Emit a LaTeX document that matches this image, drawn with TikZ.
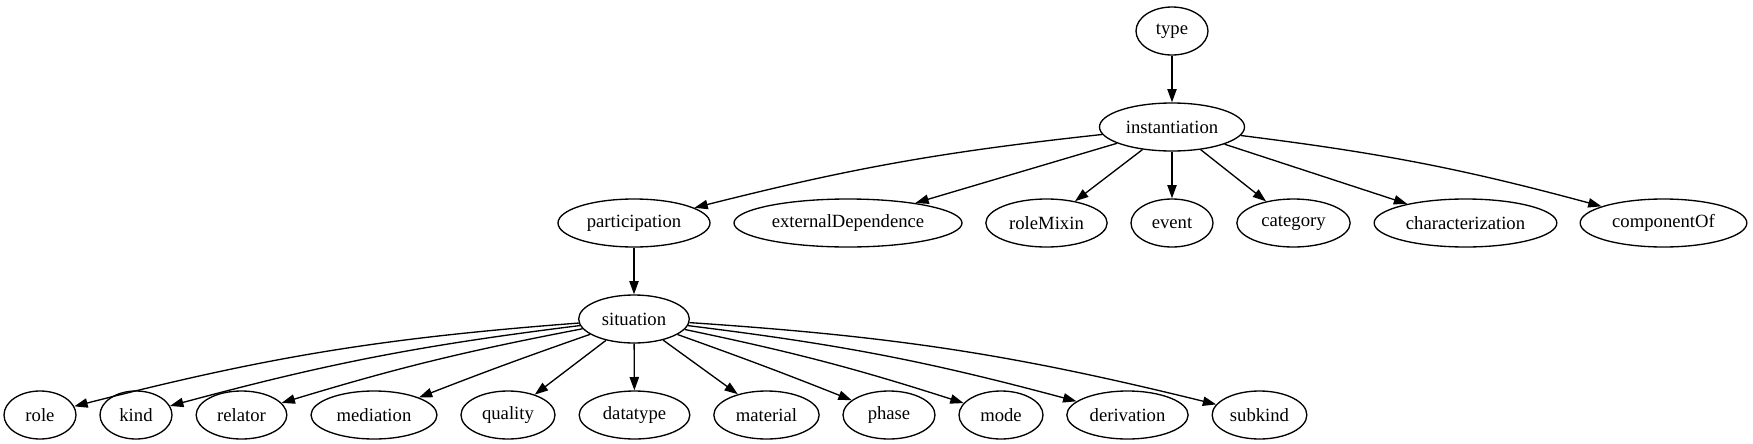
\documentclass[tikz,border=0pt]{standalone}
\usepackage{fontspec}
\setmainfont{Liberation Serif}
\usetikzlibrary{shapes.geometric,arrows.meta}

\begin{document}
\begin{tikzpicture}[
    x=0.75pt, y=-0.75pt,
    % Estilo para los nodos
    nodo/.style={
        ellipse,
        draw=black,
        line width=1pt,
        fill=white,
        inner sep=0pt,
        minimum height=36pt,
        font=\fontsize{14}{16}\selectfont
    },
    % Estilo para las aristas
    arista/.style={
        ->,
        >={Triangle[length=10pt,width=7pt]},
        line width=1pt,
        color=black
    }
]
    \useasboundingbox (0,0) rectangle (1753,443);

    % --- RAIZ ---
    \node[nodo, minimum width=54pt]    (type) at (1172,31)  {type};
    \node[nodo, minimum width=108.75pt] (inst) at (1172,127) {instantiation};

    % --- SEGUNDO NIVEL ---
    \node[nodo, minimum width=114pt] (part)      at (634,223)    {participation};
    \node[nodo, minimum width=171pt] (extDep)    at (848,223)    {externalDependence};
    \node[nodo, minimum width=91pt]  (roleMixin) at (1046.5,223) {roleMixin};
    \node[nodo, minimum width=61.5pt] (event)    at (1172,223)   {event};
    \node[nodo, minimum width=85pt]  (category)  at (1293.5,223) {category};
    \node[nodo, minimum width=137pt] (charact)   at (1465.5,223) {characterization};
    \node[nodo, minimum width=125pt] (compOf)    at (1663.5,223) {componentOf};

    % --- TERCER NIVEL ---
    \node[nodo, minimum width=83pt] (situation) at (634,319) {situation};

    % --- HOJAS ---
    \node[nodo, minimum width=54pt]   (role)       at (40,415)     {role};
    \node[nodo, minimum width=54pt]   (kind)       at (136,415)    {kind};
    \node[nodo, minimum width=68pt]   (relator)    at (241.5,415)  {relator};
    \node[nodo, minimum width=94.5pt] (mediation)  at (374,415)    {mediation};
    \node[nodo, minimum width=70.5pt] (quality)    at (508,415)    {quality};
    \node[nodo, minimum width=83pt]   (datatype)   at (634.5,415)  {datatype};
    \node[nodo, minimum width=79pt]   (material)   at (766.5,415)  {material};
    \node[nodo, minimum width=69pt]   (phase)      at (889,415)    {phase};
    \node[nodo, minimum width=63pt]   (mode)       at (1001,415)   {mode};
    \node[nodo, minimum width=91pt]   (derivation) at (1127.5,415) {derivation};
    \node[nodo, minimum width=71pt]   (subkind)    at (1259.5,415) {subkind};

    % --- ARISTAS ---
    \draw[arista] (type) -- (inst);

    \draw[arista] (inst) to[bend right=4] (part);
    \draw[arista] (inst) -- (extDep);
    \draw[arista] (inst) -- (roleMixin);
    \draw[arista] (inst) -- (event);
    \draw[arista] (inst) -- (category);
    \draw[arista] (inst) -- (charact);
    \draw[arista] (inst) to[bend left=4] (compOf);

    \draw[arista] (part) -- (situation);

    \draw[arista] (situation) to[bend right=5] (role);
    \draw[arista] (situation) to[bend right=4] (kind);
    \draw[arista] (situation) to[bend right=3] (relator);
    \draw[arista] (situation) to[bend right=1] (mediation);
    \draw[arista] (situation) -- (quality);
    \draw[arista] (situation) -- (datatype);
    \draw[arista] (situation) -- (material);
    \draw[arista] (situation) to[bend left=1] (phase);
    \draw[arista] (situation) to[bend left=3] (mode);
    \draw[arista] (situation) to[bend left=4] (derivation);
    \draw[arista] (situation) to[bend left=5] (subkind);

\end{tikzpicture}
\end{document}
